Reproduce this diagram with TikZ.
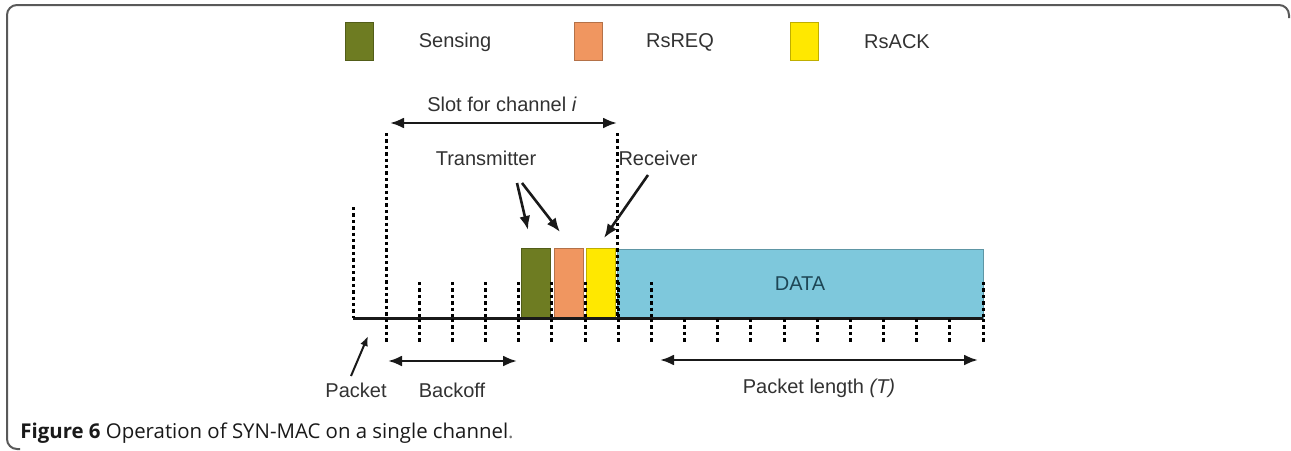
\documentclass[tikz,border=0pt]{standalone}
\usepackage{fontspec}
\setmainfont{Liberation Sans}
\newfontfamily\capfont{Open Sans}
\usetikzlibrary{arrows.meta}
\definecolor{senseolive}{RGB}{110,124,34}
\definecolor{reqorange}{RGB}{240,150,96}
\definecolor{ackyellow}{RGB}{255,232,0}
\definecolor{datacyan}{RGB}{126,200,220}
\definecolor{labelgray}{RGB}{50,50,50}
\definecolor{datatext}{RGB}{30,70,85}
\tikzset{
  tickline/.style={line width=1.5pt, dash pattern=on 1.7pt off 1.5pt},
  slotbox/.style={draw=#1!75!black, fill=#1, line width=0.4pt, minimum width=14.5pt, minimum height=35pt, inner sep=0pt},
  legbox/.style={draw=#1!75!black, fill=#1, line width=0.4pt, minimum width=14pt, minimum height=19pt, inner sep=0pt},
  lbl/.style={font=\fontsize{10}{12}\selectfont, text=labelgray, inner sep=0pt},
  bigarrow/.style={line width=1.3pt, black!90}
}
\begin{document}
\begin{tikzpicture}[x=0.5pt, y=-0.5pt, >={Latex[length=7pt,width=5.5pt]}]
\useasboundingbox (0,0) rectangle (1291,450);
% Khung ngoai
\draw[line width=1pt, black!65, rounded corners=5pt] (20,449) -- (7,449) -- (7,5) -- (1289,5) -- (1289,18);
% Chu giai mau
\node[legbox=senseolive] (legsense) at (359,41) {};
\node[lbl] (legsensetext) at (455,42) {Sensing};
\node[legbox=reqorange] (legreq) at (588,41) {};
\node[lbl] (legreqtext) at (680,42) {RsREQ};
\node[legbox=ackyellow] (legack) at (804,41) {};
\node[lbl] (legacktext) at (897,42) {RsACK};
% Cac khung truyen
\node[slotbox=senseolive] (sense) at (536,283) {};
\node[slotbox=reqorange] (req) at (568.5,283) {};
\node[slotbox=ackyellow] (ack) at (600.5,283) {};
\node[slotbox=datacyan, minimum width=183pt, minimum height=34.5pt, text=datatext, font=\fontsize{10}{12}\selectfont] (data) at (800,283.5) {DATA};
% Truc thoi gian
\coordinate (tstart) at (353,318);
\coordinate (tend) at (983,318);
\draw[line width=1.5pt, black!90] (tstart) -- (tend);
% Vach duoi truc
\foreach \k in {0,...,18} {
  \draw[tickline] (386+33.17*\k,319) -- (386+33.17*\k,342);
}
% Vach tren truc
\foreach \k in {1,...,8,18} {
  \draw[tickline] (386+33.17*\k,282) -- (386+33.17*\k,317);
}
% Vach dai: goi tin den va bien khe
\draw[tickline] (353,207) -- (tstart);
\draw[tickline] (386,133) -- (386,318);
\draw[tickline] (617,133) -- (617,318);
% Khe cho kenh i
\coordinate (slotL) at (390,123);
\coordinate (slotR) at (617,123);
\draw[bigarrow, <->] (slotL) -- (slotR);
\node[lbl] (slot) at (502,104) {Slot for channel \textit{i}};
% Ben phat
\node[lbl] (tx) at (486,158) {Transmitter};
\coordinate (txfromA) at (517,183);
\coordinate (txfromB) at (522,183);
\coordinate (txtoA) at (528,230);
\coordinate (txtoB) at (560,232);
\draw[bigarrow, ->] (txfromA) -- (txtoA);
\draw[bigarrow, ->] (txfromB) -- (txtoB);
% Ben nhan
\node[lbl] (rx) at (658,158) {Receiver};
\coordinate (rxfrom) at (648,175);
\coordinate (rxto) at (604,238);
\draw[bigarrow, ->] (rxfrom) -- (rxto);
% Goi tin
\node[lbl] (pkt) at (356,390) {Packet};
\coordinate (pktfrom) at (351,376);
\coordinate (pktto) at (368,336);
\draw[line width=1pt, black!90, ->, >={Latex[length=5pt,width=4pt]}] (pktfrom) -- (pktto);
% Backoff
\coordinate (boL) at (388,361);
\coordinate (boR) at (517,361);
\draw[bigarrow, <->] (boL) -- (boR);
\node[lbl] (bo) at (452,390) {Backoff};
% Do dai goi
\coordinate (plL) at (660,360);
\coordinate (plR) at (978,360);
\draw[bigarrow, <->] (plL) -- (plR);
\node[lbl] (plen) at (819,388) {Packet length \textit{(T)}};
% Chu thich hinh
\node[anchor=base west, inner sep=0pt, font=\capfont\fontsize{10.2}{12}\selectfont, text=black!90] (cap) at (20,438) {\textbf{Figure 6} Operation of SYN-MAC on a single channel\textcolor{black!55}{.}};
\end{tikzpicture}
\end{document}
